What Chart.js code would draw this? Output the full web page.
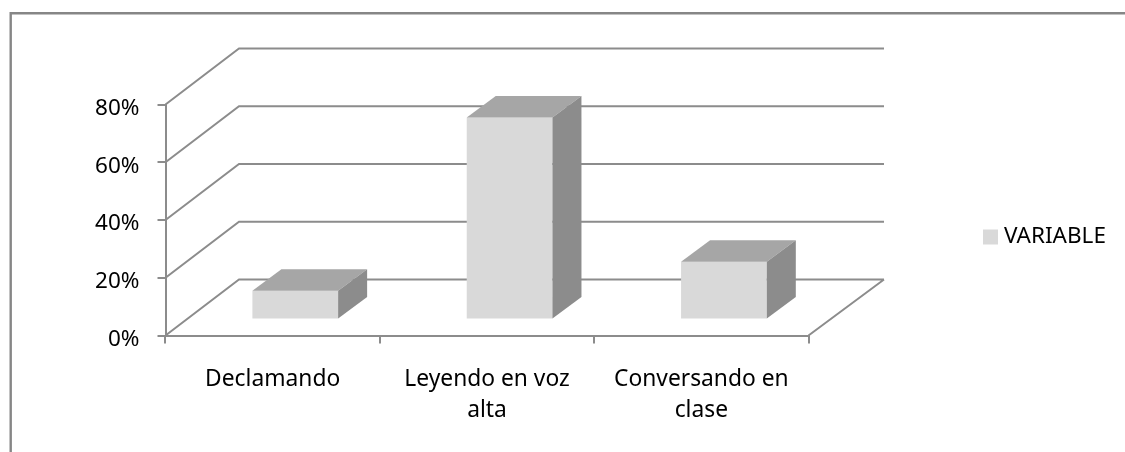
<!DOCTYPE html>
<html>
<head>
<meta charset="utf-8">
<style>html,body{margin:0;padding:0;background:#fff}#w{position:relative;width:1125px;height:452px}</style>
<script src="https://cdn.jsdelivr.net/npm/chart.js@4"></script>
</head>
<body>
<div id="w"><canvas id="c"></canvas></div>
<script>
const categories = [['Declamando'], ['Leyendo en voz', 'alta'], ['Conversando en', 'clase']];
const seriesName = 'VARIABLE';
const seriesValues = [10, 70, 20];
const yTickValues = [0, 20, 40, 60, 80];

const LINE = '#8c8c8c', FRONT = '#d9d9d9', TOP = '#a6a6a6', SIDE = '#8c8c8c';
const FONT = '"Noto Sans", "Open Sans", sans-serif';
const wall = {dx: 73.5, dy: 56, rightExtra: 2};
const barShift = {x: 22.6, y: 16};
const barDepth = {dx: 29, dy: 21.5};

const box3d = {
  id: 'box3d',
  beforeDraw(chart) {
    const c = chart.ctx;
    c.save();
    c.strokeStyle = '#868686'; c.lineWidth = 2.4;
    c.beginPath(); c.moveTo(10.7, 452); c.lineTo(10.7, 13.3); c.lineTo(1125, 13.3); c.stroke();
    c.restore();
  },
  afterLayout(chart) {
    const l = chart.legend;
    l.left = 978.25; l.right = 1125; l.width = 146.75;
    l.top = 220; l.bottom = 254;
  },
  beforeDatasetsDraw(chart) {
    const c = chart.ctx, y = chart.scales.y, a = chart.chartArea;
    c.save();
    c.strokeStyle = LINE; c.lineWidth = 2;
    c.beginPath();
    yTickValues.forEach(v => {
      const p = y.getPixelForValue(v);
      c.moveTo(a.left, p);
      c.lineTo(a.left + wall.dx, p - wall.dy);
      c.lineTo(a.right + wall.dx + wall.rightExtra, p - wall.dy);
    });
    const p0 = y.getPixelForValue(0);
    c.moveTo(a.right, p0);
    c.lineTo(a.right + wall.dx + wall.rightExtra, p0 - wall.dy);
    c.stroke();
    c.restore();
  },
  beforeDatasetDraw(chart) {
    chart.ctx.save();
    chart.ctx.translate(barShift.x, -barShift.y);
  },
  afterDatasetDraw(chart, args) {
    const c = chart.ctx;
    args.meta.data.forEach(b => {
      const L = b.x - b.width / 2, R = b.x + b.width / 2, T = b.y, B = b.base;
      const {dx, dy} = barDepth;
      c.fillStyle = TOP;
      c.beginPath(); c.moveTo(L, T); c.lineTo(L + dx, T - dy); c.lineTo(R + dx, T - dy); c.lineTo(R, T); c.closePath(); c.fill();
      c.fillStyle = SIDE;
      c.beginPath(); c.moveTo(R, T); c.lineTo(R + dx, T - dy); c.lineTo(R + dx, B - dy); c.lineTo(R, B); c.closePath(); c.fill();
    });
    c.restore();
  }
};

new Chart(document.getElementById('c'), {
  type: 'bar',
  data: {
    labels: categories,
    datasets: [{
      label: seriesName,
      data: seriesValues,
      backgroundColor: FRONT,
      borderWidth: 0,
      categoryPercentage: 1,
      barPercentage: 0.4,
      clip: false
    }]
  },
  plugins: [box3d],
  options: {
    responsive: true,
    maintainAspectRatio: false,
    animation: false,
    layout: {padding: {top: 104.5, right: 316.5, bottom: 0, left: 0}},
    plugins: {
      tooltip: {enabled: false},
      title: {display: false},
      legend: {
        position: 'chartArea',
        align: 'center',
        labels: {
          boxWidth: 4.5, boxHeight: 4.5, padding: 10,
          color: '#000',
          font: {family: FONT, size: 22.5},
          generateLabels: ch => Chart.defaults.plugins.legend.labels.generateLabels(ch)
            .map(i => ({...i, lineWidth: 10.5, strokeStyle: FRONT}))
        }
      }
    },
    scales: {
      x: {
        afterFit: s => { s.height = 116.5; },
        grid: {drawOnChartArea: false, drawTicks: true, tickLength: 8, color: LINE, lineWidth: 2},
        border: {color: LINE, width: 2},
        ticks: {color: '#000', padding: 20, maxRotation: 0, autoSkip: false,
                font: {family: FONT, size: 22.8, lineHeight: 1.38}}
      },
      y: {
        min: 0, max: 80,
        afterFit: s => { s.width = 165.5; },
        afterBuildTicks: s => { s.ticks = yTickValues.map(v => ({value: v})); },
        grid: {drawOnChartArea: false, drawTicks: true, tickLength: 8, color: LINE, lineWidth: 2},
        border: {color: LINE, width: 2},
        ticks: {color: '#000', padding: 18, labelOffset: 4, callback: v => v + '%',
                font: {family: FONT, size: 22.5}}
      }
    }
  }
});
</script>
</body>
</html>
